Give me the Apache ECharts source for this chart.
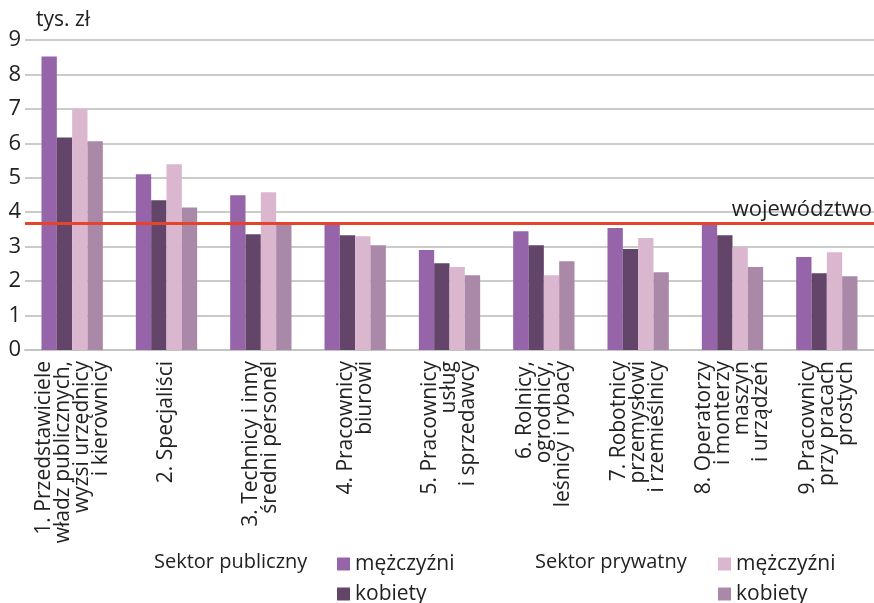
<!DOCTYPE html>
<html>
<head>
<meta charset="utf-8">
<script src="https://cdn.jsdelivr.net/npm/echarts@6/dist/echarts.min.js"></script>
<style>
  html, body { margin: 0; padding: 0; background: #fff; }
  #chart { width: 874px; height: 603px; }
</style>
</head>
<body>
<div id="chart"></div>
<script>
var categories = [
  "1. Przedstawiciele\nwładz publicznych,\nwyżsi urzędnicy\ni kierownicy",
  "2. Specjaliści",
  "3. Technicy i inny\nśredni personel",
  "4. Pracownicy\nbiurowi",
  "5. Pracownicy\nusług\ni sprzedawcy",
  "6. Rolnicy,\nogrodnicy,\nleśnicy i rybacy",
  "7. Robotnicy\nprzemysłowi\ni rzemieślnicy",
  "8. Operatorzy\ni monterzy\nmaszyn\ni urządzeń",
  "9. Pracownicy\nprzy pracach\nprostych"
];
var publicMen = [8.52, 5.10, 4.49, 3.65, 2.90, 3.45, 3.54, 3.71, 2.70];
var publicWomen = [6.17, 4.35, 3.36, 3.33, 2.52, 3.04, 2.93, 3.33, 2.23];
var privateMen = [7.00, 5.39, 4.58, 3.30, 2.41, 2.17, 3.25, 2.99, 2.84];
var privateWomen = [6.06, 4.14, 3.68, 3.04, 2.17, 2.58, 2.26, 2.41, 2.14];
var regionAverage = 3.67;
var yTicks = [0, 1, 2, 3, 4, 5, 6, 7, 8, 9];

var font = "Open Sans";
var chart = echarts.init(document.getElementById("chart"));

function bar(name, data, color) {
  return {
    name: name,
    type: "bar",
    data: data,
    barGap: "0%",
    barCategoryGap: "35%",
    itemStyle: { color: color },
    animation: false
  };
}

var series = [
  bar("Sektor publiczny|mężczyźni", publicMen, "#9564a9"),
  bar("Sektor publiczny|kobiety", publicWomen, "#634569"),
  bar("Sektor prywatny|mężczyźni", privateMen, "#dab7cf"),
  bar("Sektor prywatny|kobiety", privateWomen, "#a988a8")
];
series[3].markLine = {
  silent: true,
  symbol: "none",
  animation: false,
  lineStyle: { color: "#e5432a", width: 3, type: "solid" },
  label: {
    position: "insideEndTop",
    formatter: "województwo",
    fontFamily: font,
    fontSize: 22,
    color: "#222",
    distance: [2, 3]
  },
  data: [{ yAxis: regionAverage }]
};

// one legend block per item so the two columns sit exactly like the original
function legendItem(name, left, top) {
  return {
    data: [name],
    left: left,
    top: top,
    padding: 0,
    itemWidth: 13,
    itemHeight: 13,
    icon: "rect",
    selectedMode: false,
    formatter: function (n) { return n.split("|")[1]; },
    textStyle: { fontFamily: font, fontSize: 21, lineHeight: 22, color: "#222" }
  };
}

var option = {
  textStyle: { fontFamily: font },
  title: [
    { text: "tys. zł", left: 31, top: 5, textStyle: { fontFamily: font, fontSize: 21, fontWeight: "normal", color: "#222" } },
    { text: "Sektor publiczny", left: 149, top: 547, textStyle: { fontFamily: font, fontSize: 20, fontWeight: "normal", color: "#222" } },
    { text: "Sektor prywatny", left: 530, top: 547, textStyle: { fontFamily: font, fontSize: 20, fontWeight: "normal", color: "#222" } }
  ],
  legend: [
    legendItem("Sektor publiczny|mężczyźni", 337, 553),
    legendItem("Sektor publiczny|kobiety", 337, 583),
    legendItem("Sektor prywatny|mężczyźni", 718, 553),
    legendItem("Sektor prywatny|kobiety", 718, 583)
  ],
  grid: { left: 25, top: 40, width: 857, height: 310, containLabel: false },
  xAxis: {
    type: "category",
    data: categories,
    axisTick: { show: false },
    axisLine: { lineStyle: { color: "#c4c4c4", width: 2 } },
    axisLabel: {
      rotate: 90,
      interval: 0,
      margin: 11,
      fontFamily: font,
      fontSize: 21,
      lineHeight: 19,
      color: "#222"
    }
  },
  yAxis: {
    type: "value",
    min: yTicks[0],
    max: yTicks[yTicks.length - 1],
    interval: 1,
    axisLine: { show: false },
    axisTick: { show: false },
    axisLabel: { fontFamily: font, fontSize: 22, color: "#222", margin: 4 },
    splitLine: { lineStyle: { color: "#cbcbcb", width: 2 } }
  },
  series: series
};

chart.setOption(option);
</script>
</body>
</html>
